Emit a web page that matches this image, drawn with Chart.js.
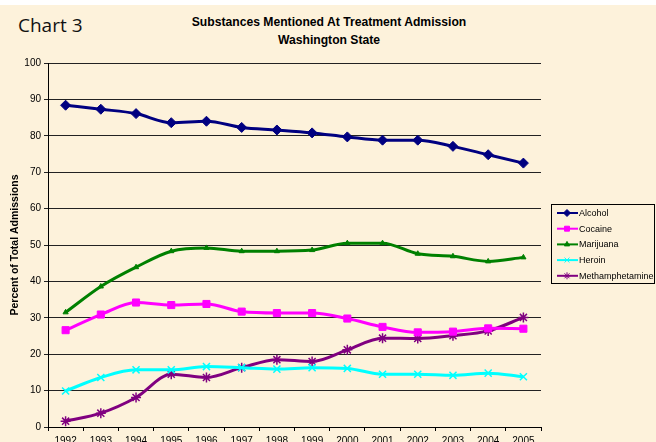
<!DOCTYPE html>
<html>
<head>
<meta charset="utf-8">
<script src="https://cdn.jsdelivr.net/npm/chart.js@4/dist/chart.umd.min.js"></script>
<style>
  html, body { margin: 0; padding: 0; background: #fff; }
  #wrap { position: relative; width: 656px; height: 442px; overflow: hidden; background: #fff; }
  #bg { position: absolute; left: 0; top: 5px; width: 656px; height: 437px; background: #FDF2DB; }
  #tag { position: absolute; left: 18px; top: 12px; font-family: "Open Sans", sans-serif; font-size: 19px; color: #111; }
  #title { position: absolute; left: 79px; width: 500px; top: 13px; text-align: center; font-family: Arial, "Liberation Sans", sans-serif; font-weight: bold; font-size: 13.5px; line-height: 18px; color: #000; transform: scaleX(0.9); }
  canvas { position: absolute; left: 0; top: 0; }
</style>
</head>
<body>
<div id="wrap">
  <div id="bg"></div>
  <div id="tag">Chart 3</div>
  <div id="title">Substances Mentioned At Treatment Admission<br>Washington State</div>
  <canvas id="chart" width="656" height="451"></canvas>
</div>
<script>
// years on the x axis
const years = ['1992','1993','1994','1995','1996','1997','1998','1999','2000','2001','2002','2003','2004','2005'];

// percent of total admissions
const alcohol = [88.4, 87.3, 86.1, 83.6, 84.0, 82.3, 81.6, 80.8, 79.7, 78.8, 78.8, 77.1, 74.8, 72.5];
const cocaine = [26.6, 30.9, 34.2, 33.5, 33.8, 31.7, 31.3, 31.3, 29.8, 27.5, 26.0, 26.2, 27.1, 27.0];
const marijuana = [31.5, 38.6, 43.9, 48.3, 49.2, 48.3, 48.3, 48.6, 50.5, 50.5, 47.6, 46.9, 45.5, 46.6];
const heroin = [9.9, 13.6, 15.7, 15.7, 16.6, 16.3, 15.9, 16.3, 16.1, 14.5, 14.5, 14.2, 14.8, 13.8];
const meth = [1.6, 3.8, 8.1, 14.5, 13.6, 16.3, 18.5, 18.0, 21.2, 24.4, 24.3, 25.1, 26.4, 30.1];

const yTicks = [0, 10, 20, 30, 40, 50, 60, 70, 80, 90, 100];

const axisFont = 'Arial, "Liberation Sans", sans-serif';

function series(label, data, color, style, radius) {
    return {
        label: label,
        data: data,
        borderColor: color,
        backgroundColor: color,
        borderWidth: 3,
        pointStyle: style,
        pointRadius: radius,
        pointBorderWidth: style === 'crossRot' || style === 'star' ? 1.5 : 1,
        cubicInterpolationMode: 'monotone'
    };
}

// draws the boxed legend to the right of the plot
const boxLegend = {
    id: 'boxLegend',
    afterDraw(chart) {
        const ctx = chart.ctx;
        const x0 = 551, y0 = 204, w = 103, h = 79;
        ctx.save();
        ctx.strokeStyle = '#000';
        ctx.lineWidth = 1;
        ctx.strokeRect(x0 + 0.5, y0 + 0.5, w, h);
        ctx.font = '9px ' + axisFont;
        ctx.textBaseline = 'middle';
        chart.data.datasets.forEach((ds, i) => {
            const y = y0 + 9 + i * 15.7;
            ctx.strokeStyle = ds.borderColor;
            ctx.lineWidth = 2;
            ctx.beginPath();
            ctx.moveTo(x0 + 6, y);
            ctx.lineTo(x0 + 27, y);
            ctx.stroke();
            ctx.fillStyle = ds.backgroundColor;
            ctx.lineWidth = 1;
            Chart.helpers.drawPoint(ctx, { pointStyle: ds.pointStyle, radius: Math.min(ds.pointRadius, 3.5), rotation: 0, borderWidth: 1 }, x0 + 16, y);
            ctx.fillStyle = '#000';
            ctx.fillText(ds.label, x0 + 28, y + 0.5);
        });
        ctx.restore();
    }
};

const ctx = document.getElementById('chart').getContext('2d');
new Chart(ctx, {
    type: 'line',
    data: {
        labels: years,
        datasets: [
            series('Alcohol', alcohol, '#000080', 'rectRot', 5),
            series('Cocaine', cocaine, '#FF00FF', 'rect', 5),
            series('Marijuana', marijuana, '#008000', 'triangle', 3),
            series('Heroin', heroin, '#00FFFF', 'crossRot', 5),
            series('Methamphetamine', meth, '#800080', 'star', 5)
        ]
    },
    options: {
        responsive: false,
        animation: false,
        layout: { padding: { left: 0, right: 115, top: 63, bottom: 0 } },
        plugins: {
            legend: { display: false },
            tooltip: { enabled: false }
        },
        scales: {
            x: {
                offset: true,
                grid: { drawOnChartArea: false, offset: true, tickLength: 4, color: '#000' },
                border: { color: '#000', width: 1 },
                ticks: { color: '#000', font: { family: axisFont, size: 10 }, maxRotation: 0, padding: 4 }
            },
            y: {
                min: 0,
                max: 100,
                afterBuildTicks: (scale) => { scale.ticks = yTicks.map(v => ({ value: v })); },
                afterFit: (scale) => { scale.width = 48; },
                grid: { color: '#222', tickLength: 4 },
                border: { color: '#000', width: 1 },
                ticks: { color: '#000', font: { family: axisFont, size: 10 }, padding: 3 },
                title: {
                    display: true,
                    text: 'Percent of Total Admissions',
                    color: '#000',
                    font: { family: axisFont, size: 10.5, weight: 'bold' },
                    padding: { top: 9, bottom: 0 }
                }
            }
        }
    },
    plugins: [boxLegend]
});
</script>
</body>
</html>
